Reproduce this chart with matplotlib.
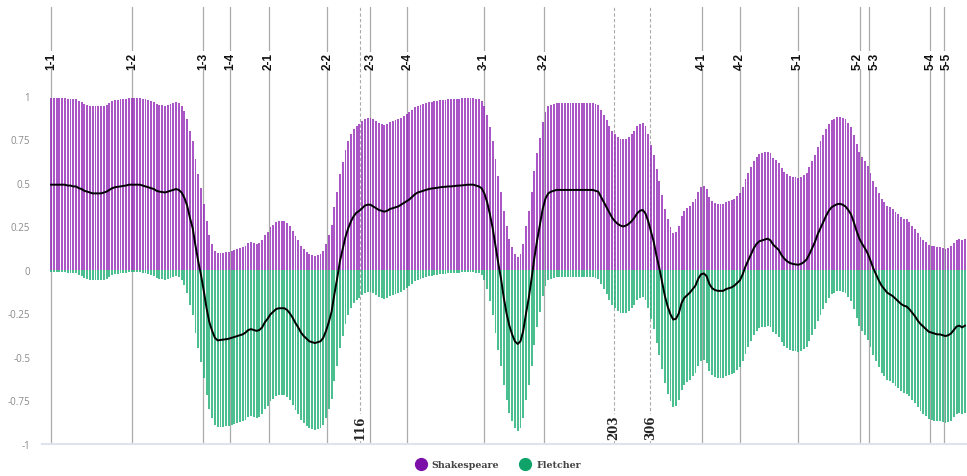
import matplotlib
matplotlib.use("Agg")
import matplotlib.pyplot as plt
from matplotlib.lines import Line2D
from matplotlib.transforms import offset_copy

# attribution probability per text window (Shakespeare up, Fletcher down)
shakespeare = [
    .99, .99, .99, .99, .99, .99, .985, .985, .98,
    .98, .97, .965, .955, .95, .945, .94, .94, .94,
    .94, .945, .95, .96, .97, .975, .978, .98, .983,
    .985, .99, .99, .99, .99, .99, .985, .98, .975,
    .97, .965, .955, .95, .948, .945, .95, .955, .96,
    .965, .96, .945, .915, .87, .80, .74, .64, .55,
    .47, .38, .28, .20, .15, .11, .095, .098, .10,
    .102, .105, .11, .115, .12, .125, .13, .14, .155,
    .16, .155, .15, .155, .17, .20, .22, .245, .26,
    .275, .28, .28, .28, .27, .25, .225, .195, .17,
    .14, .12, .105, .09, .085, .08, .085, .09, .11,
    .15, .20, .26, .36, .45, .55, .62, .69, .74,
    .78, .81, .83, .84, .855, .87, .875, .875, .865,
    .855, .845, .84, .835, .84, .85, .855, .86, .865,
    .875, .885, .895, .905, .92, .935, .945, .95, .955,
    .96, .965, .968, .97, .972, .975, .977, .978, .98,
    .98, .982, .984, .985, .986, .988, .99, .99, .99,
    .985, .98, .97, .94, .89, .82, .74, .64, .54,
    .45, .34, .25, .18, .13, .09, .075, .09, .15,
    .25, .34, .45, .57, .67, .76, .85, .91, .94,
    .95, .955, .96, .96, .96, .96, .96, .96, .96,
    .96, .96, .96, .96, .96, .96, .96, .955, .95,
    .92, .89, .86, .83, .80, .78, .765, .755, .75,
    .755, .765, .78, .80, .825, .84, .845, .825, .78,
    .72, .66, .58, .51, .43, .35, .29, .245, .215,
    .22, .25, .31, .34, .355, .37, .39, .41, .45,
    .475, .48, .465, .42, .395, .385, .38, .38, .38,
    .39, .395, .40, .41, .425, .44, .475, .52, .555,
    .59, .625, .65, .665, .67, .675, .68, .67, .645,
    .63, .615, .585, .565, .55, .54, .535, .532, .53,
    .535, .545, .56, .59, .625, .66, .705, .74, .775,
    .81, .84, .86, .87, .878, .88, .875, .865, .845,
    .82, .775, .725, .68, .65, .625, .595, .555, .51,
    .475, .44, .41, .39, .37, .36, .35, .335, .32,
    .305, .295, .29, .275, .255, .235, .21, .19, .175,
    .16, .145, .14, .135, .13, .13, .125, .12, .125,
    .135, .155, .175, .18, .17, .18,
]
fletcher = [
    -.01, -.01, -.01, -.01, -.01, -.01, -.015, -.015, -.02,
    -.02, -.03, -.035, -.045, -.05, -.055, -.06, -.06, -.06,
    -.06, -.055, -.05, -.04, -.03, -.025, -.022, -.02, -.017,
    -.015, -.01, -.01, -.01, -.01, -.01, -.015, -.02, -.025,
    -.03, -.035, -.045, -.05, -.052, -.055, -.05, -.045, -.04,
    -.035, -.04, -.055, -.085, -.13, -.20, -.26, -.36, -.45,
    -.53, -.62, -.72, -.80, -.85, -.89, -.905, -.902, -.90,
    -.898, -.895, -.89, -.885, -.88, -.875, -.87, -.86, -.845,
    -.84, -.845, -.85, -.845, -.83, -.80, -.78, -.755, -.74,
    -.725, -.72, -.72, -.72, -.73, -.75, -.775, -.805, -.83,
    -.86, -.88, -.895, -.91, -.915, -.92, -.915, -.91, -.89,
    -.85, -.80, -.74, -.64, -.55, -.45, -.38, -.31, -.26,
    -.22, -.19, -.17, -.16, -.145, -.13, -.125, -.125, -.135,
    -.145, -.155, -.16, -.165, -.16, -.15, -.145, -.14, -.135,
    -.125, -.115, -.105, -.095, -.08, -.065, -.055, -.05, -.045,
    -.04, -.035, -.032, -.03, -.028, -.025, -.023, -.022, -.02,
    -.02, -.018, -.016, -.015, -.014, -.012, -.01, -.01, -.01,
    -.015, -.02, -.03, -.06, -.11, -.18, -.26, -.36, -.46,
    -.55, -.66, -.75, -.82, -.87, -.91, -.925, -.91, -.85,
    -.75, -.66, -.55, -.43, -.33, -.24, -.15, -.09, -.06,
    -.05, -.045, -.04, -.04, -.04, -.04, -.04, -.04, -.04,
    -.04, -.04, -.04, -.04, -.04, -.04, -.04, -.045, -.05,
    -.08, -.11, -.14, -.17, -.20, -.22, -.235, -.245, -.25,
    -.245, -.235, -.22, -.20, -.175, -.16, -.155, -.175, -.22,
    -.28, -.34, -.42, -.49, -.57, -.65, -.71, -.755, -.785,
    -.78, -.75, -.69, -.66, -.645, -.63, -.61, -.59, -.55,
    -.525, -.52, -.535, -.58, -.605, -.615, -.62, -.62, -.62,
    -.61, -.605, -.60, -.59, -.575, -.56, -.525, -.48, -.445,
    -.41, -.375, -.35, -.335, -.33, -.325, -.32, -.33, -.355,
    -.37, -.385, -.415, -.435, -.45, -.46, -.465, -.468, -.47,
    -.465, -.455, -.44, -.41, -.375, -.34, -.295, -.26, -.225,
    -.19, -.16, -.14, -.13, -.122, -.12, -.125, -.135, -.155,
    -.18, -.225, -.275, -.32, -.35, -.375, -.405, -.445, -.49,
    -.525, -.56, -.59, -.61, -.63, -.64, -.65, -.665, -.68,
    -.695, -.705, -.71, -.725, -.745, -.765, -.79, -.81, -.825,
    -.84, -.855, -.86, -.865, -.87, -.87, -.875, -.88, -.875,
    -.865, -.845, -.825, -.82, -.83, -.82,
]

# scene boundaries (window index) and marked line numbers
scenes = ["1-1", "1-2", "1-3", "1-4", "2-1", "2-2", "2-3", "2-4", "3-1",
          "3-2", "4-1", "4-2", "5-1", "5-2", "5-3", "5-4", "5-5"]
scene_pos = [0, 29.3, 54.8, 64.6, 78.5, 99.4, 114.9, 128.2, 155.8,
             177.5, 234.3, 248.1, 268.9, 291.3, 294.5, 316.5, 321.4]
lines_marked = ["116", "203", "306"]
lines_pos = [111.3, 202.7, 215.7]

yticks = [1, 0.75, 0.5, 0.25, 0, -0.25, -0.5, -0.75, -1]
ytick_labels = ["1", "0.75", "0.5", "0.25", "0", "-0.25", "-0.5", "-0.75", "-1"]

purple = "#9326b8"
green = "#1aae72"

x = list(range(len(shakespeare)))
mean = [(s + f) / 2 for s, f in zip(shakespeare, fletcher)]

fig = plt.figure(figsize=(9.67, 4.77), dpi=100)
ax = fig.add_axes([42 / 967, 32 / 477, 924 / 967, 437 / 477])

for p in scene_pos:
    ax.axvline(p, color="#ababab", lw=0.9, zorder=1)
for p in lines_pos:
    ax.axvline(p, color="#aaaaaa", lw=0.8, ls=(0, (3, 2)), zorder=1)

ax.bar(x, shakespeare, width=0.68, color=purple, alpha=0.78, lw=0, zorder=2)
ax.bar(x, fletcher, width=0.68, color=green, alpha=0.78, lw=0, zorder=2)
ax.plot(x, mean, color="black", lw=1.4, zorder=3, solid_joinstyle="round")

# crowded scene labels get nudged sideways (pixels)
nudge = {"5-2": -3, "5-3": 6, "5-5": 3}
box = dict(facecolor="white", edgecolor="none", pad=0.2)
for name, p in zip(scenes, scene_pos):
    tr = offset_copy(ax.transData, fig=fig, x=nudge.get(name, 0), y=0, units="dots")
    ax.text(p, 1.205, name, rotation=90, ha="center", va="center",
            fontsize=8.5, fontweight="bold", family="Liberation Sans",
            color="#111111", bbox=box, zorder=4, transform=tr)
for name, p in zip(lines_marked, lines_pos):
    ax.text(p, -0.9, name, rotation=90, ha="center", va="center",
            fontsize=8.5, fontweight="bold", family="DejaVu Serif",
            color="#222222", bbox=box, zorder=4)

ax.set_xlim(-3.25, 329.4)
ax.set_ylim(-1, 1.511)
ax.set_xticks([])
ax.set_yticks(yticks)
ax.set_yticklabels(ytick_labels, family="Open Sans", fontsize=7, color="#8a8a8a")
ax.tick_params(axis="y", length=0, pad=8.5)
for side in ["top", "right", "left"]:
    ax.spines[side].set_visible(False)
ax.spines["bottom"].set_color("#dfe3ee")
ax.spines["bottom"].set_linewidth(1.5)

handles = [
    Line2D([], [], marker="o", ls="", color="#7b0fa8", markersize=8.5),
    Line2D([], [], marker="o", ls="", color="#0fa36a", markersize=8.5),
]
fig.legend(handles, ["Shakespeare", "Fletcher"], loc="center",
           bbox_to_anchor=(496 / 967, 1 - 466 / 477), ncol=2, frameon=False,
           handletextpad=0.15, columnspacing=1.8,
           prop=dict(family="DejaVu Serif", weight="bold", size=6.8),
           labelcolor="#444444")

fig.savefig("out.png", dpi=100)
